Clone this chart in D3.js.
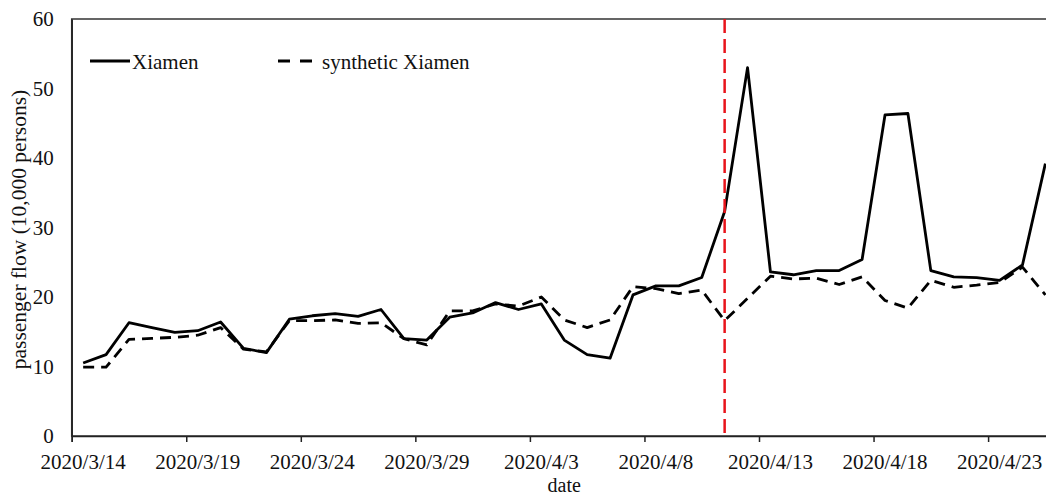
<!DOCTYPE html>
<html>
<head>
<meta charset="utf-8">
<script src="https://cdn.jsdelivr.net/npm/d3@7"></script>
<style>
  html, body { margin: 0; padding: 0; background: #fff; }
  svg { display: block; font-family: "Liberation Serif", "Times New Roman", serif; }
</style>
</head>
<body>
<svg id="chart" width="1046" height="496"></svg>
<script>
// Daily dates (categories)
const dates = [
  "2020/3/14","2020/3/15","2020/3/16","2020/3/17","2020/3/18","2020/3/19","2020/3/20",
  "2020/3/21","2020/3/22","2020/3/23","2020/3/24","2020/3/25","2020/3/26","2020/3/27",
  "2020/3/28","2020/3/29","2020/3/30","2020/3/31","2020/4/1","2020/4/2","2020/4/3",
  "2020/4/4","2020/4/5","2020/4/6","2020/4/7","2020/4/8","2020/4/9","2020/4/10",
  "2020/4/11","2020/4/12","2020/4/13","2020/4/14","2020/4/15","2020/4/16","2020/4/17",
  "2020/4/18","2020/4/19","2020/4/20","2020/4/21","2020/4/22","2020/4/23","2020/4/24",
  "2020/4/25"
];

// Passenger flow, 10,000 persons
const xiamen = [
  10.5, 11.7, 16.3, 15.6, 14.9, 15.15, 16.4, 12.6, 12.0, 16.8, 17.3, 17.6, 17.2, 18.2,
  14.0, 13.8, 17.1, 17.7, 19.2, 18.2, 19.0, 13.8, 11.7, 11.2, 20.3, 21.6, 21.6, 22.8,
  32.3, 53.0, 23.6, 23.2, 23.8, 23.8, 25.4, 46.2, 46.4, 23.8, 22.9, 22.8, 22.4, 24.6,
  39.2
];
const syntheticXiamen = [
  9.9, 9.9, 13.9, 14.05, 14.2, 14.5, 15.6, 12.5, 12.1, 16.6, 16.6, 16.7, 16.2, 16.3,
  14.0, 13.1, 18.0, 18.0, 19.0, 18.7, 20.0, 16.7, 15.6, 16.7, 21.5, 21.2, 20.5, 21.0,
  16.6, 19.8, 23.0, 22.6, 22.7, 21.8, 22.9, 19.5, 18.4, 22.4, 21.4, 21.7, 22.1, 24.3,
  20.3
];

const yTicks = [0, 10, 20, 30, 40, 50, 60];
const xLabelDates = ["2020/3/14","2020/3/19","2020/3/24","2020/3/29","2020/4/3","2020/4/8","2020/4/13","2020/4/18","2020/4/23"];
const eventDate = "2020/4/11";

const svg = d3.select("#chart");
const plotLeft = 71.7, plotTop = 19, plotBottom = 436, dayW = 22.91;
const plotRight = plotLeft + dates.length * dayW;

const x = d3.scaleBand().domain(dates).range([plotLeft, plotRight]).padding(0);
const xc = d => x(d) + x.bandwidth() / 2;
const y = d3.scaleLinear().domain([0, 60]).range([plotBottom, plotTop]);

// Plot area frame
svg.append("rect")
  .attr("x", plotLeft).attr("y", plotTop)
  .attr("width", plotRight - plotLeft).attr("height", plotBottom - plotTop)
  .attr("fill", "none").attr("stroke", "#333").attr("stroke-width", 1.5);

// Y axis
const yAxis = svg.append("g").attr("transform", `translate(${plotLeft},0)`)
  .call(d3.axisLeft(y).tickValues(yTicks).tickSize(0).tickPadding(18).tickFormat(d3.format("d")));
yAxis.select(".domain").attr("stroke", "#222").attr("stroke-width", 1.5);
yAxis.selectAll("text").attr("font-size", 21).attr("fill", "#111")
  .attr("font-family", "Liberation Serif, serif");

// X axis: labels centred on categories
const xAxis = svg.append("g").attr("transform", `translate(0,${plotBottom})`)
  .call(d3.axisBottom(x).tickValues(xLabelDates).tickSize(0).tickPadding(18));
xAxis.select(".domain").remove();
xAxis.selectAll("text").attr("font-size", 21).attr("fill", "#111")
  .attr("font-family", "Liberation Serif, serif");

// X axis: tick marks at category boundaries every five days
const xi = d3.scaleLinear().domain([0, dates.length]).range([plotLeft, plotRight]);
const xTickAxis = svg.append("g").attr("transform", `translate(0,${plotBottom})`)
  .call(d3.axisBottom(xi).tickValues(d3.range(0, dates.length + 1, 5)).tickSize(6).tickFormat(""));
xTickAxis.select(".domain").attr("stroke", "#222").attr("stroke-width", 1.5);
xTickAxis.selectAll(".tick line").attr("stroke", "#222").attr("stroke-width", 1.5);

// Axis titles
svg.append("text")
  .attr("x", xi(dates.length / 2)).attr("y", 492)
  .attr("text-anchor", "middle").attr("font-size", 20).attr("fill", "#111")
  .text("date");
svg.append("text")
  .attr("transform", `translate(19,${(plotTop + plotBottom) / 2 + 2}) rotate(-90)`)
  .attr("text-anchor", "middle").attr("dominant-baseline", "central")
  .attr("font-size", 21.5).attr("fill", "#111")
  .text("passenger flow (10,000 persons)");

// Series lines
const line = d3.line().x((d, i) => xc(dates[i])).y(d => y(d));
svg.append("path").datum(syntheticXiamen).attr("d", line)
  .attr("fill", "none").attr("stroke", "#000").attr("stroke-width", 2.8)
  .attr("stroke-dasharray", "11,7").attr("stroke-linejoin", "round");
svg.append("path").datum(xiamen).attr("d", line)
  .attr("fill", "none").attr("stroke", "#000").attr("stroke-width", 2.8)
  .attr("stroke-linejoin", "round");

// Event marker
svg.append("line")
  .attr("x1", xc(eventDate)).attr("x2", xc(eventDate))
  .attr("y1", y(60)).attr("y2", y(0))
  .attr("stroke", "#e8141b").attr("stroke-width", 2.5).attr("stroke-dasharray", "14,6");

// Legend
const legend = svg.append("g");
legend.append("line").attr("x1", 90).attr("x2", 130).attr("y1", 61).attr("y2", 61)
  .attr("stroke", "#000").attr("stroke-width", 2.8);
legend.append("text").attr("x", 132).attr("y", 69).attr("font-size", 21).attr("fill", "#111")
  .text("Xiamen");
legend.append("line").attr("x1", 278).attr("x2", 312).attr("y1", 61).attr("y2", 61)
  .attr("stroke", "#000").attr("stroke-width", 2.8).attr("stroke-dasharray", "12,10");
legend.append("text").attr("x", 322).attr("y", 69).attr("font-size", 21).attr("fill", "#111")
  .text("synthetic Xiamen");
</script>
</body>
</html>
